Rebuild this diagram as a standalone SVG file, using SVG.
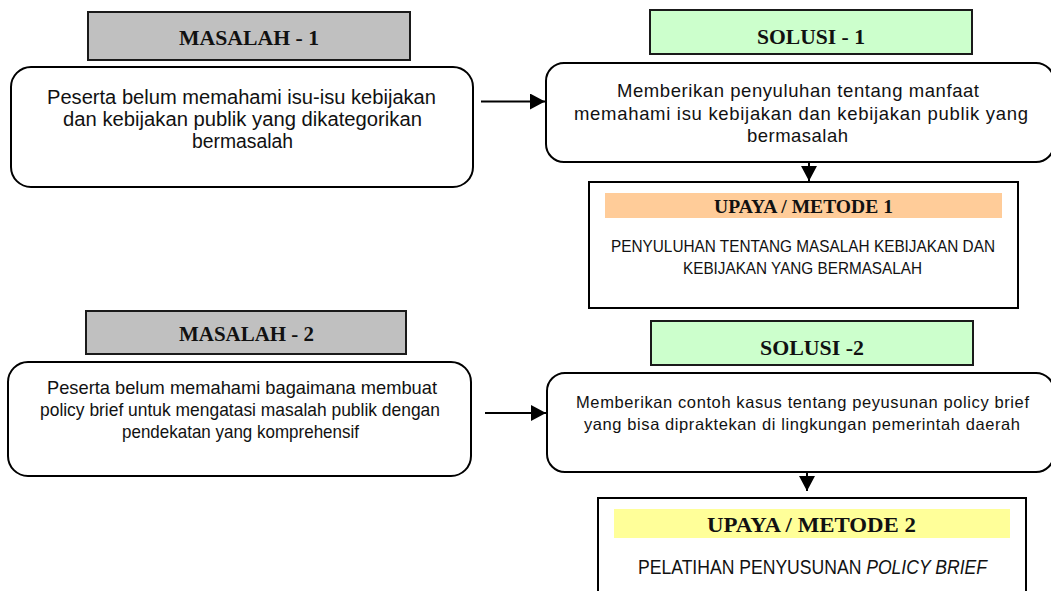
<svg xmlns="http://www.w3.org/2000/svg" width="1051" height="591" viewBox="0 0 1051 591">
  <style>
    .hdr { stroke: #1a1a1a; stroke-width: 2; }
    .gray { fill: #c0c0c0; }
    .green { fill: #ccffcc; }
    .box { fill: #ffffff; stroke: #000000; stroke-width: 2; }
    .ht { font-family: "Liberation Serif", "DejaVu Serif", serif; font-weight: bold; fill: #111111; }
    .bt { font-family: "Liberation Sans", Arial, sans-serif; fill: #111111; }
    .conn { stroke: #000000; stroke-width: 2; fill: none; }
  </style>
  <defs>
    <marker id="ah" markerUnits="userSpaceOnUse" markerWidth="15" markerHeight="16" refX="15" refY="8" orient="auto">
      <path d="M0,0 L15,8 L0,16 z" fill="#000000"/>
    </marker>
  </defs>

  <g id="masalah-1-header">
    <rect class="hdr gray" x="88" y="12" width="322" height="48"/>
    <text class="ht" x="179" y="45" font-size="21" textLength="140" lengthAdjust="spacingAndGlyphs">MASALAH - 1</text>
  </g>
  <g id="masalah-1">
    <rect class="box" x="11" y="67" width="462" height="120" rx="20" ry="20"/>
    <text class="bt" font-size="20" x="47" y="104" textLength="389" lengthAdjust="spacingAndGlyphs">Peserta belum memahami isu-isu kebijakan</text>
    <text class="bt" font-size="20" x="63" y="126" textLength="359" lengthAdjust="spacingAndGlyphs">dan kebijakan publik yang dikategorikan</text>
    <text class="bt" font-size="20" x="192" y="148" textLength="101" lengthAdjust="spacingAndGlyphs">bermasalah</text>
  </g>

  <g id="solusi-1-header">
    <rect class="hdr green" x="650" y="10" width="322" height="44"/>
    <text class="ht" x="757" y="44" font-size="21" textLength="108" lengthAdjust="spacingAndGlyphs">SOLUSI - 1</text>
  </g>
  <g id="solusi-1">
    <rect class="box" x="546" y="63" width="508" height="99" rx="18" ry="18"/>
    <text class="bt" font-size="18.5" x="617" y="97" textLength="362" lengthAdjust="spacing">Memberikan penyuluhan tentang manfaat</text>
    <text class="bt" font-size="18.5" x="574" y="120" textLength="454" lengthAdjust="spacing">memahami isu kebijakan dan kebijakan publik yang</text>
    <text class="bt" font-size="18.5" x="747" y="142" textLength="101" lengthAdjust="spacing">bermasalah</text>
  </g>

  <g id="upaya-1">
    <rect class="box" x="589" y="182" width="429" height="126"/>
    <rect x="605" y="193" width="397" height="25" fill="#ffcc99"/>
    <text class="ht" x="714" y="213" font-size="18" textLength="179" lengthAdjust="spacingAndGlyphs">UPAYA / METODE 1</text>
    <text class="bt" font-size="17" x="611" y="252" textLength="384" lengthAdjust="spacingAndGlyphs">PENYULUHAN TENTANG MASALAH KEBIJAKAN DAN</text>
    <text class="bt" font-size="17" x="683" y="274" textLength="239" lengthAdjust="spacingAndGlyphs">KEBIJAKAN YANG BERMASALAH</text>
  </g>

  <g id="masalah-2-header">
    <rect class="hdr gray" x="86" y="311" width="320" height="43"/>
    <text class="ht" x="179" y="341" font-size="20" textLength="135" lengthAdjust="spacingAndGlyphs">MASALAH - 2</text>
  </g>
  <g id="masalah-2">
    <rect class="box" x="8" y="362" width="463" height="114" rx="20" ry="20"/>
    <text class="bt" font-size="19" x="47" y="394" textLength="390" lengthAdjust="spacingAndGlyphs">Peserta belum memahami bagaimana membuat</text>
    <text class="bt" font-size="19" x="40" y="416" textLength="400" lengthAdjust="spacingAndGlyphs">policy brief untuk mengatasi masalah publik dengan</text>
    <text class="bt" font-size="19" x="122" y="438" textLength="237" lengthAdjust="spacingAndGlyphs">pendekatan yang komprehensif</text>
  </g>

  <g id="solusi-2-header">
    <rect class="hdr green" x="651" y="321" width="322" height="44"/>
    <text class="ht" x="760" y="355" font-size="21" textLength="104" lengthAdjust="spacingAndGlyphs">SOLUSI -2</text>
  </g>
  <g id="solusi-2">
    <rect class="box" x="547" y="373" width="507" height="99" rx="18" ry="18"/>
    <text class="bt" font-size="16.5" x="576" y="408" textLength="453" lengthAdjust="spacing">Memberikan contoh kasus tentang peyusunan policy brief</text>
    <text class="bt" font-size="16.5" x="584" y="430" textLength="436" lengthAdjust="spacing">yang bisa dipraktekan di lingkungan pemerintah daerah</text>
  </g>

  <g id="upaya-2">
    <rect class="box" x="598" y="498" width="428" height="110"/>
    <rect x="614" y="509" width="396" height="29" fill="#ffff99"/>
    <text class="ht" x="707" y="532" font-size="21" textLength="209" lengthAdjust="spacingAndGlyphs">UPAYA / METODE 2</text>
    <text class="bt" font-size="20" x="638" y="574" textLength="349" lengthAdjust="spacingAndGlyphs">PELATIHAN PENYUSUNAN <tspan font-style="italic">POLICY BRIEF</tspan></text>
  </g>

  <g id="connectors">
    <line class="conn" x1="481" y1="101.5" x2="545" y2="101.5" marker-end="url(#ah)"/>
    <line class="conn" x1="485" y1="413" x2="546" y2="413" marker-end="url(#ah)"/>
    <line class="conn" x1="809" y1="162" x2="809" y2="181" marker-end="url(#ah)"/>
    <line class="conn" x1="807" y1="472" x2="807" y2="491" marker-end="url(#ah)"/>
  </g>
</svg>
